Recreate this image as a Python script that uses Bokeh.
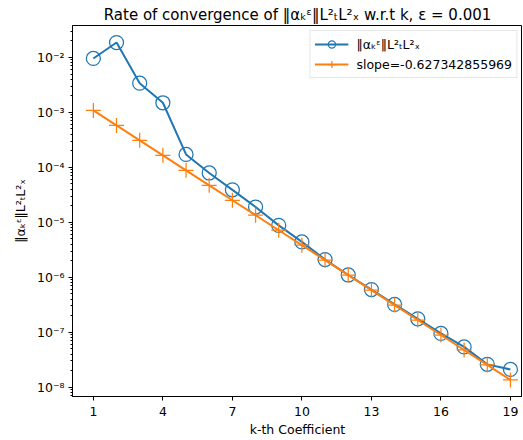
from bokeh.plotting import figure
from bokeh.models import FixedTicker, LogTicker, CustomJSTickFormatter, Range1d
from bokeh.embed import file_html
from bokeh.resources import INLINE

k = list(range(1, 20))
norm_vals = [9.6e-3, 1.87e-2, 3.4e-3, 1.5e-3, 1.72e-4, 7.9e-5, 3.9e-5, 1.9e-5,
             8.8e-6, 4.4e-6, 2.1e-6, 1.1e-6, 5.97e-7, 3.2e-7, 1.75e-7, 9.5e-8,
             5.4e-8, 2.6e-8, 2.1e-8]
slope_vals = [1.087e-3, 5.80e-4, 3.10e-4, 1.655e-4, 8.83e-5, 4.72e-5, 2.52e-5,
              1.345e-5, 7.18e-6, 3.84e-6, 2.05e-6, 1.094e-6, 5.84e-7, 3.12e-7,
              1.666e-7, 8.89e-8, 4.75e-8, 2.54e-8, 1.355e-8]
x_ticks = [1, 4, 7, 10, 13, 16, 19]

norm_label = "\u2016\u03b1\u2096\u1d4b\u2016L\u00b2\u209cL\u00b2\u2093"
slope_label = "slope=-0.627342855969"
title_text = "Rate of convergence of \u2016\u03b1\u2096\u1d4b\u2016L\u00b2\u209cL\u00b2\u2093 w.r.t k, \u03b5 = 0.001"

FONT = "DejaVu Sans"
BLUE = "#1f77b4"
ORANGE = "#ff7f0e"

p = figure(width=522, height=439, y_axis_type="log", output_backend="svg",
           toolbar_location=None, x_range=Range1d(0.1, 19.52),
           y_range=Range1d(10 ** -8.17, 10 ** -1.418),
           min_border_left=72, min_border_right=0, min_border_bottom=43,
           min_border_top=25)

p.title.text = title_text
p.title.text_font = FONT
p.title.text_font_size = "15px"
p.title.text_font_style = "normal"
p.title.align = "center"
p.title.text_color = "black"
p.title.offset = 0
p.title.standoff = 4

p.line(k, norm_vals, color=BLUE, line_width=2, legend_label=norm_label)
p.scatter(k, norm_vals, marker="circle", size=14, fill_color=None,
          line_color=BLUE, line_width=1.25, legend_label=norm_label)
p.line(k, slope_vals, color=ORANGE, line_width=2, legend_label=slope_label)
p.scatter(k, slope_vals, marker="cross", size=15, line_color=ORANGE,
          line_width=1.25, legend_label=slope_label)

p.xgrid.visible = False
p.ygrid.visible = False
p.outline_line_color = "black"
p.outline_line_width = 1

p.xaxis.ticker = FixedTicker(ticks=x_ticks)
p.yaxis.ticker = LogTicker(num_minor_ticks=10)
p.yaxis.formatter = CustomJSTickFormatter(code="""
const sup = {'-':'\u207b','0':'\u2070','1':'\u00b9','2':'\u00b2','3':'\u00b3','4':'\u2074','5':'\u2075','6':'\u2076','7':'\u2077','8':'\u2078','9':'\u2079'};
const e = Math.round(Math.log10(tick));
return '10' + String(e).split('').map(c => sup[c]).join('');
""")

for ax in (p.xaxis[0], p.yaxis[0]):
    ax.axis_line_color = "black"
    ax.major_tick_line_color = "black"
    ax.major_tick_in = 0
    ax.major_tick_out = 4
    ax.minor_tick_in = 0
    ax.minor_tick_out = 2
    ax.major_label_text_font = FONT
    ax.major_label_text_font_size = "12.5px"
    ax.major_label_text_color = "black"
    ax.major_label_standoff = 4
    ax.axis_label_text_font = FONT
    ax.axis_label_text_font_size = "12.5px"
    ax.axis_label_text_font_style = "normal"
    ax.axis_label_text_color = "black"
p.xaxis.minor_tick_line_color = None
p.yaxis.minor_tick_line_color = "black"
p.xaxis.major_label_standoff = 6

p.xaxis.axis_label = "k-th Coefficient"
p.xaxis.axis_label_standoff = 3
p.yaxis.axis_label = norm_label
p.yaxis.axis_label_standoff = 6

lg = p.legend[0]
lg.location = "top_right"
lg.margin = 5
lg.label_text_font = FONT
lg.label_text_font_size = "12.5px"
lg.label_text_color = "black"
lg.border_line_color = "#d0d0d0"
lg.border_line_width = 1
lg.background_fill_alpha = 0.8
lg.glyph_width = 34
lg.glyph_height = 18
lg.label_height = 18
lg.label_standoff = 8
lg.spacing = 2
lg.padding = 4

open("out.html", "w").write(file_html(p, INLINE))
